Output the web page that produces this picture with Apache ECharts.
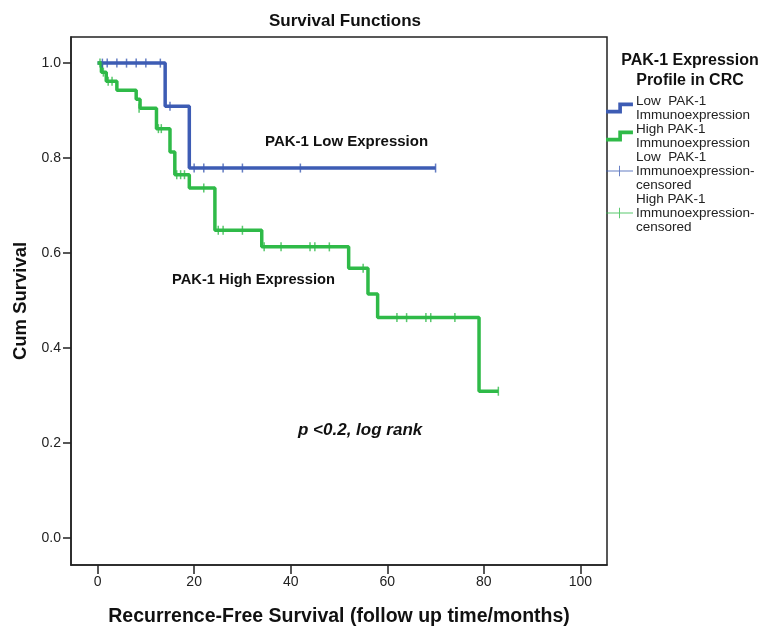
<!DOCTYPE html>
<html>
<head>
<meta charset="utf-8">
<script src="https://cdn.jsdelivr.net/npm/echarts@6/dist/echarts.min.js"></script>
<style>
  html, body { margin: 0; padding: 0; background: #fff; }
  #chart { width: 761px; height: 632px; }
</style>
</head>
<body>
<div id="chart"></div>
<script>
  // Kaplan-Meier steps
  const lowTimes = [0, 14, 19, 70];
  const lowSurv = [1.0, 0.909, 0.779, 0.779];
  const lowCensorTimes = [1, 2, 4, 6, 8, 10, 13, 15, 20, 22, 26, 30, 42, 70];
  const lowCensorSurv = [1.0, 1.0, 1.0, 1.0, 1.0, 1.0, 1.0, 0.909, 0.779, 0.779, 0.779, 0.779, 0.779, 0.779];

  const highTimes = [0, 0.8, 1.8, 4, 8, 8.8, 12.2, 15, 16, 19, 24.3, 34, 52, 56, 58, 79, 83];
  const highSurv = [1.0, 0.981, 0.962, 0.943, 0.924, 0.905, 0.862, 0.813, 0.765, 0.737, 0.648, 0.613, 0.568, 0.514, 0.464, 0.309, 0.309];
  const highCensorTimes = [0.5, 1.2, 2.2, 3, 8.6, 12.6, 13.2, 16.4, 17.2, 18, 22, 25, 26, 30, 34.5, 38, 44, 45, 48, 55, 62, 64, 68, 69, 74, 83];
  const highCensorSurv = [1.0, 0.981, 0.962, 0.962, 0.905, 0.862, 0.862, 0.765, 0.765, 0.765, 0.737, 0.648, 0.648, 0.648, 0.613, 0.613, 0.613, 0.613, 0.613, 0.568, 0.464, 0.464, 0.464, 0.464, 0.464, 0.309];

  const xTicks = [0, 20, 40, 60, 80, 100];
  const yTicks = [0, 0.2, 0.4, 0.6, 0.8, 1.0];

  const seriesNames = [
    'Low  PAK-1 Immunoexpression',
    'High PAK-1 Immunoexpression',
    'Low  PAK-1 Immunoexpression- censored',
    'High PAK-1 Immunoexpression- censored'
  ];

  const zip = (a, b) => a.map((v, i) => [v, b[i]]);

  const font = 'Arial, "Liberation Sans", sans-serif';
  const blue = '#3d5cb4';
  const green = '#2fba48';
  const stepIcon = 'path://M0,7H10V1H22V4H13V10H0Z';
  const plusIcon = 'path://M0,5H28V6H0Z M13.5,0H14.5V11H13.5Z';

  const myChart = echarts.init(document.getElementById('chart'));

  const option = {
    backgroundColor: '#fff',
    animation: false,
    textStyle: { fontFamily: font },
    title: [
      {
        text: 'Survival Functions',
        left: 340,
        top: 8,
        textAlign: 'center',
        textStyle: { fontSize: 17, fontWeight: 'bold', color: '#111', fontFamily: font }
      },
      {
        text: 'PAK-1 Expression\nProfile in CRC',
        left: 685,
        top: 46,
        textAlign: 'center',
        textStyle: { fontSize: 16, fontWeight: 'bold', color: '#111', lineHeight: 20, fontFamily: font }
      }
    ],
    legend: {
      orient: 'vertical',
      left: 606,
      top: 94,
      itemGap: 0,
      itemWidth: 27,
      itemHeight: 11,
      padding: 0,
      data: [
        { name: seriesNames[0], icon: stepIcon },
        { name: seriesNames[1], icon: stepIcon },
        { name: seriesNames[2], icon: plusIcon },
        { name: seriesNames[3], icon: plusIcon }
      ],
      formatter: function (name) {
        return name.replace(' Immunoexpression', '\nImmunoexpression').replace('- censored', '-\ncensored');
      },
      textStyle: { fontSize: 13.5, lineHeight: 14, color: '#222', fontFamily: font, padding: [0, 0, 0, -2] }
    },
    grid: {
      left: 71,
      right: 154,
      top: 37,
      bottom: 59,
      show: true,
      borderColor: '#222',
      borderWidth: 1.5
    },
    xAxis: {
      type: 'value',
      min: -5.5,
      max: 105.5,
      name: 'Recurrence-Free Survival (follow up time/months)',
      nameLocation: 'middle',
      nameGap: 42,
      nameTextStyle: { fontSize: 19.5, fontWeight: 'bold', color: '#111', fontFamily: font },
      axisLine: { show: true, onZero: false, lineStyle: { color: '#222', width: 1.5 } },
      axisTick: { show: true, length: 9, customValues: xTicks, lineStyle: { color: '#222', width: 1.5 } },
      axisLabel: { customValues: xTicks, fontSize: 14, color: '#222', margin: 10, fontFamily: font },
      splitLine: { show: false }
    },
    yAxis: {
      type: 'value',
      min: -0.057,
      max: 1.055,
      name: 'Cum Survival',
      nameLocation: 'middle',
      nameGap: 41,
      nameTextStyle: { fontSize: 18.5, fontWeight: 'bold', color: '#111', fontFamily: font },
      axisLine: { show: true, onZero: false, lineStyle: { color: '#222', width: 1.5 } },
      axisTick: { show: true, length: 8, customValues: yTicks, lineStyle: { color: '#222', width: 1.5 } },
      axisLabel: {
        customValues: yTicks,
        fontSize: 14,
        color: '#222',
        margin: 10,
        fontFamily: font,
        formatter: v => v.toFixed(1)
      },
      splitLine: { show: false }
    },
    graphic: [
      {
        type: 'text', left: 265, top: 134,
        style: { text: 'PAK-1 Low Expression', font: 'bold 15px ' + font, fill: '#111' }
      },
      {
        type: 'text', left: 172, top: 272,
        style: { text: 'PAK-1 High Expression', font: 'bold 14.7px ' + font, fill: '#111' }
      },
      {
        type: 'text', left: 298, top: 422,
        style: { text: 'p <0.2, log rank', font: 'italic bold 17px ' + font, fill: '#111' }
      }
    ],
    series: [
      {
        name: seriesNames[0],
        type: 'line',
        step: 'end',
        data: zip(lowTimes, lowSurv),
        showSymbol: false,
        color: blue,
        lineStyle: { color: blue, width: 3.5 },
        z: 2
      },
      {
        name: seriesNames[1],
        type: 'line',
        step: 'end',
        data: zip(highTimes, highSurv),
        showSymbol: false,
        color: green,
        lineStyle: { color: green, width: 3.5 },
        z: 3
      },
      {
        name: seriesNames[2],
        type: 'scatter',
        data: zip(lowCensorTimes, lowCensorSurv),
        symbol: 'rect',
        symbolSize: [1.5, 9],
        color: blue,
        itemStyle: { color: blue },
        z: 4
      },
      {
        name: seriesNames[3],
        type: 'scatter',
        data: zip(highCensorTimes, highCensorSurv),
        symbol: 'rect',
        symbolSize: [1.5, 9],
        color: green,
        itemStyle: { color: green },
        z: 5
      }
    ]
  };

  myChart.setOption(option);
</script>
</body>
</html>
